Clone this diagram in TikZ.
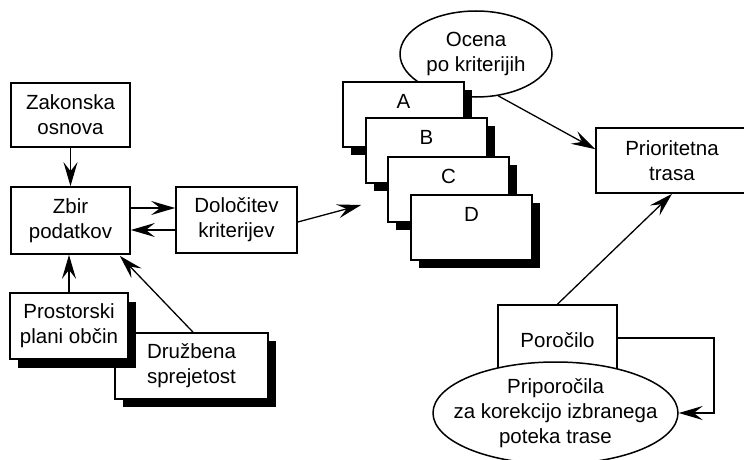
\documentclass[tikz,border=0pt]{standalone}
\usepackage{fontspec}
\setmainfont{Liberation Sans}
\usetikzlibrary{shapes.geometric,shadows,arrows.meta,calc}
\begin{document}
\begin{tikzpicture}[x=1pt,y=-1pt,
  font=\fontsize{20.5}{25}\selectfont,
  box/.style={draw, line width=1.7pt, fill=white, align=center, inner sep=0pt, rectangle},
  shbox/.style={box, drop shadow={shadow xshift=8pt, shadow yshift=-8pt, fill=black, opacity=1}},
  stackbox/.style={shbox, minimum width=121pt, minimum height=65pt, text height=26pt, text depth=39pt},
  ell/.style={draw, line width=1.5pt, fill=white, ellipse, align=center, inner sep=-80pt},
  tipshape/.tip={Stealth[length=24pt, width=14pt, inset=9pt]},
  conn/.style={line width=1.3pt, -tipshape}
]
\useasboundingbox (0,0) rectangle (744,460);
\clip (0,0) rectangle (744,460);

% left column
\node[box, minimum width=119pt, minimum height=64pt] (zak) at (70.5,115) {Zakonska\\osnova};
\node[box, minimum width=119pt, minimum height=67pt] (zbir) at (70.5,220.5) {Zbir\\podatkov};
\node[box, minimum width=121pt, minimum height=66pt] (dol) at (236.5,220) {Določitev\\kriterijev};
\node[shbox, minimum width=153pt, minimum height=66pt] (druz) at (191.5,366) {Družbena\\sprejetost};
\node[box, minimum width=118pt, minimum height=66pt,
  drop shadow={shadow xshift=8pt, shadow yshift=-9pt, fill=black, opacity=1}] (pros) at (69,326) {Prostorski\\plani občin};

% evaluation and stack
\node[ell, minimum width=152pt, minimum height=86pt] (oc) at (476,54) {Ocena\\po kriterijih};
\node[stackbox] (A) at (403.5,114.5) {A};
\node[stackbox] (B) at (426.5,150.5) {B};
\node[stackbox] (C) at (448.5,189.5) {C};
\node[stackbox] (D) at (471.5,227.5) {D};

% right part
\node[box, minimum width=152pt, minimum height=65pt] (prior) at (672,160.5) {Prioritetna\\trasa};
\node[box, minimum width=119pt, minimum height=70pt] (por) at (557.5,340) {Poročilo};
\node[ell, minimum width=245pt, minimum height=102pt] (rec) at (555.5,413) {Priporočila\\za korekcijo izbranega\\poteka trase};

% connectors
\draw[conn] (zak) -- (zbir);
\draw[conn] ($(zbir.east)+(0,-12.5)$) -- ($(dol.west)+(0,-12)$);
\draw[conn] ($(dol.west)+(0,10)$) -- ($(zbir.east)+(0,9.5)$);
\draw[conn] (pros.north) -- (pros.north |- zbir.south);
\draw[conn] ($(druz.north)+(1.5,0)$) -- ($(zbir.south east)+(-11,1)$);
\draw[conn] ($(dol.east)+(0,2)$) -- ($(C.west)+(-26,15.5)$);
\draw[conn] (oc.-62) -- ($(prior.north west)+(0,22)$);
\draw[conn] (por.north) -- (prior.south);
\draw[conn] ($(por.east)+(0,-2)$) -- ++(96,0) |- (rec.east);
\end{tikzpicture}
\end{document}
